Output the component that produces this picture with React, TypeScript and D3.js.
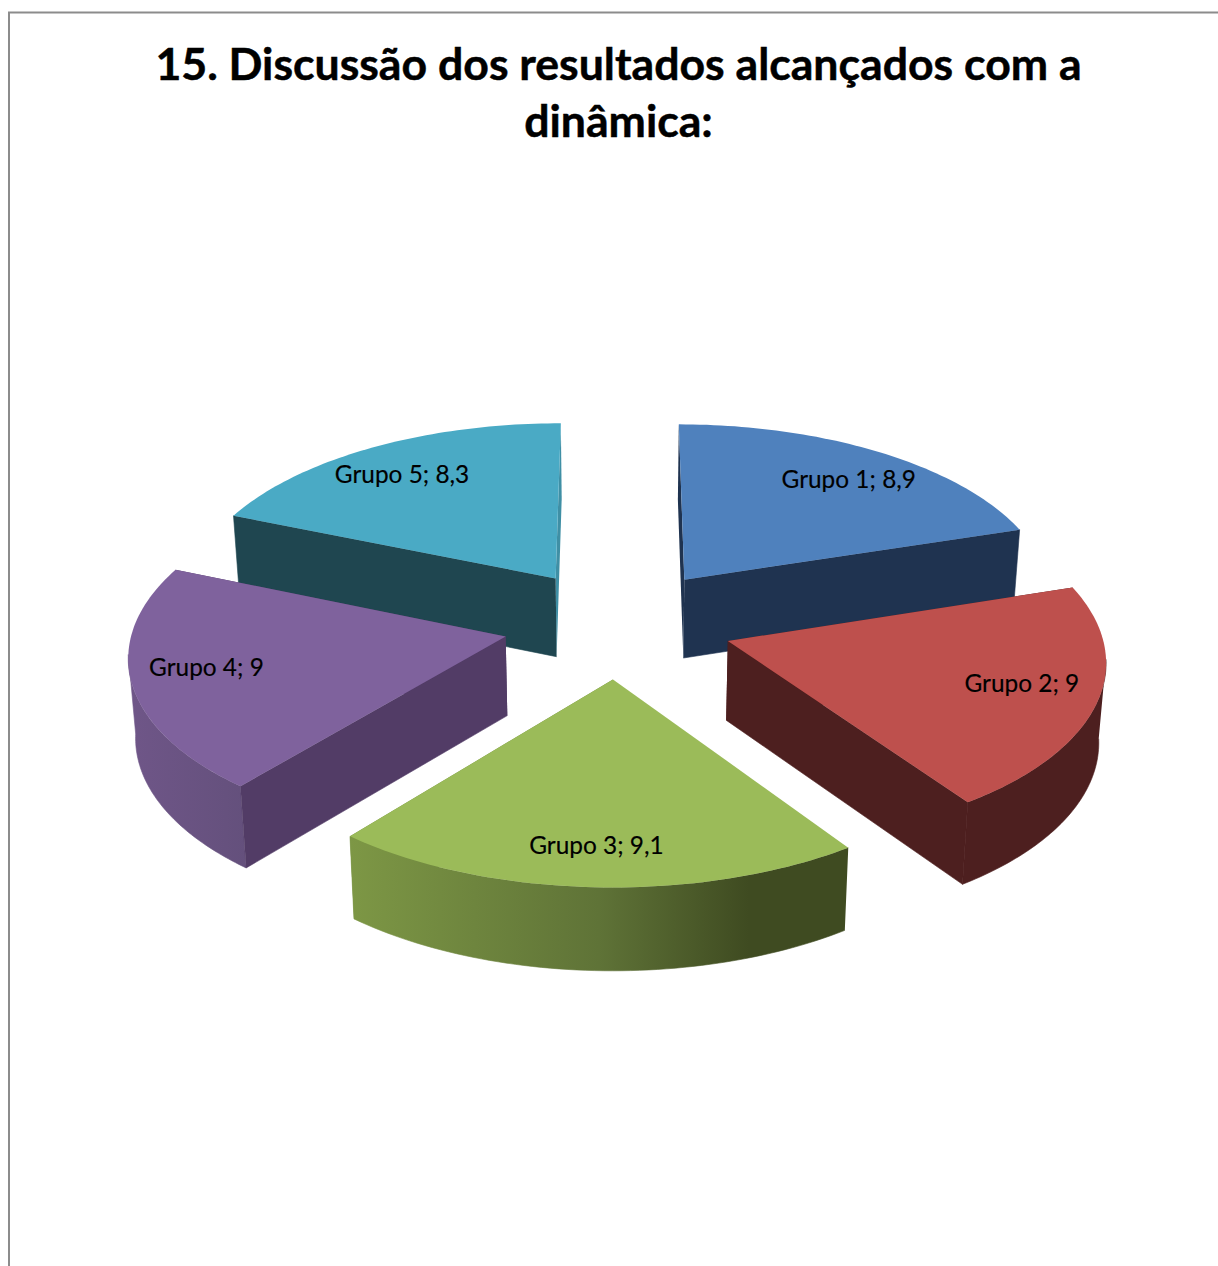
import React from "react";
import * as d3 from "d3";

const categories = ["Grupo 1", "Grupo 2", "Grupo 3", "Grupo 4", "Grupo 5"];
const values = [8.9, 9, 9.1, 9, 8.3];
const valueLabels = ["8,9", "9", "9,1", "9", "8,3"];
const titleLines = ["15. Discussão dos resultados alcançados com a", "dinâmica:"];
const topColors = ["#4F81BD", "#BE504D", "#9BBB59", "#7F629D", "#4AAAC5"];
const wallColors = ["#1F3350", "#4D1F1F", "#6F8A40", "#523C66", "#1F4650"];
const thinColors = ["#1F3350", "#4D1F1F", "#6F8A40", "#523C66", "#3F8FA5"];

const W = 1218, H = 1266;
const cx = 618, cy = 623, R = 372, explode = 115, persp = 0.00025, tilt = 0.477, depth = 79, shrink = 0.985;
const silhouette = -0.1;
const drawOrder = [0, 4, 3, 1, 2];
const labelNudge = [[6, 4], [0, -5], [-2, 4], [-1, -4], [-5, 3]];

const proj = (X: number, Y: number) => {
  const s = 1 / (1 - persp * Y);
  return [cx + X * s, cy + tilt * Y * s] as [number, number];
};
const projB = (X: number, Y: number) => {
  const s = 1 / (1 - persp * Y);
  return [cx + X * s * shrink, cy + tilt * Y * s + depth * (1 + (s - 1) * 0.4)] as [number, number];
};
const line = d3.line<[number, number]>().x(d => d[0]).y(d => d[1]);

export default function App() {
  const arcs = d3.pie<number>().sort(null)(values);
  const slices = arcs.map((a, i) => {
    const mid = (a.startAngle + a.endAngle) / 2;
    const ox = explode * Math.sin(mid), oy = -explode * Math.cos(mid);
    const world = (ang: number, r: number) => [ox + r * Math.sin(ang), oy - r * Math.cos(ang)] as [number, number];
    const sample = (a0: number, a1: number) => d3.range(0, 61).map(t => world(a0 + (a1 - a0) * t / 60, R));
    const rim = sample(a.startAngle, a.endAngle);
    const top = [proj(ox, oy), ...rim.map(p => proj(p[0], p[1]))];
    const startQ = [proj(ox, oy), proj(...rim[0]), projB(...rim[0]), projB(ox, oy)];
    const endQ = [proj(ox, oy), proj(...rim[60]), projB(...rim[60]), projB(ox, oy)];
    const a0 = Math.max(a.startAngle, Math.PI / 2 - silhouette);
    const a1 = Math.min(a.endAngle, 1.5 * Math.PI + silhouette);
    let wall: [number, number][] | null = null;
    if (a1 > a0) {
      const f = sample(a0, a1);
      wall = [...f.map(p => proj(p[0], p[1])), ...f.slice().reverse().map(p => projB(p[0], p[1]))];
    }
    const lw = world(mid, R * 0.8);
    const lp = proj(lw[0], lw[1]);
    return { i, top, startQ, endQ, wall, lp };
  });
  return (
    <svg width={W} height={H} viewBox={`0 0 ${W} ${H}`} style={{ position: "absolute", left: 0, top: 0, background: "#fff" }}>
      <defs>
        <linearGradient id="g3" x1="0" x2="1" y1="0" y2="0">
          <stop offset="0" stopColor="#7D9745" />
          <stop offset="0.5" stopColor="#5F7337" />
          <stop offset="0.8" stopColor="#3F4B21" />
          <stop offset="1" stopColor="#3F4B21" />
        </linearGradient>
        <linearGradient id="g4" x1="0" x2="1" y1="0" y2="0">
          <stop offset="0" stopColor="#6F5688" />
          <stop offset="1" stopColor="#64507C" />
        </linearGradient>
      </defs>
      <path d={`M9,${H} V12.5 H${W}`} fill="none" stroke="#8c8c8c" strokeWidth={2} />
      {titleLines.map((t, i) => (
        <text key={i} x={618.5} y={80 + i * 57} textAnchor="middle" fontFamily="Lato" fontWeight={700} fontSize={44.6} fill="#000" stroke="#000" strokeWidth={0.5}>{t}</text>
      ))}
      {drawOrder.map(k => {
        const s = slices[k];
        const wallFill = k === 2 ? "url(#g3)" : k === 3 ? "url(#g4)" : wallColors[k];
        const flip = k === 4 || k === 3 || k === 2;
        const thin = flip ? s.endQ : s.startQ;
        const big = flip ? s.startQ : s.endQ;
        return (
          <g key={k}>
            <path d={line(thin)!} fill={thinColors[k]} />
            {s.wall && <path d={line(s.wall)!} fill={wallFill} stroke={wallFill} strokeWidth={0.6} />}
            {k !== 2 && <path d={line(big)!} fill={wallColors[k]} stroke={wallColors[k]} strokeWidth={0.6} />}
            <path d={line(s.top)! + "Z"} fill={topColors[k]} />
          </g>
        );
      })}
      {slices.map(s => (
        <text key={s.i} x={s.lp[0] + labelNudge[s.i][0]} y={s.lp[1] + labelNudge[s.i][1] + 8} textAnchor="middle" fontFamily="Lato" fontSize={24.4} fill="#000" stroke="#000" strokeWidth={0.15}>
          {`${categories[s.i]}; ${valueLabels[s.i]}`}
        </text>
      ))}
    </svg>
  );
}
